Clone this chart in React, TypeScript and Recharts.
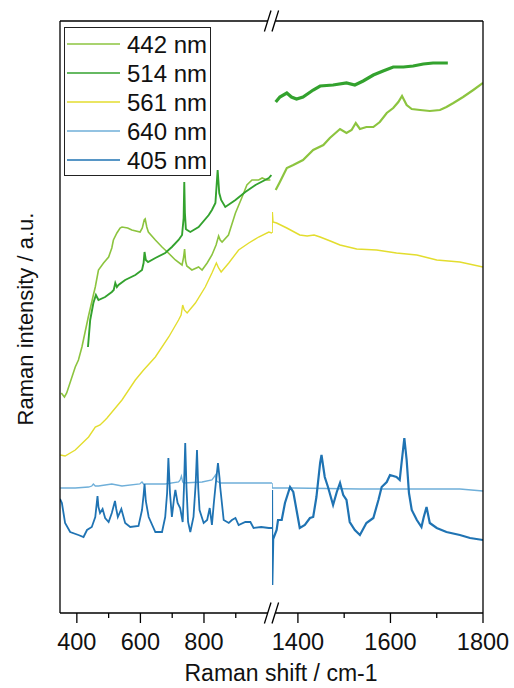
import React from 'react';
import { LineChart, Line, XAxis, YAxis, ReferenceLine, Legend } from 'recharts';

type Pt = [number, number];

// Raman shift (cm-1), intensity (a.u.) — low-wavenumber window
const nm442Left: Pt[] = [
  [351, 220], [361, 216], [368, 220], [395, 246], [405, 253], [416, 266], [436, 296], [452, 318],
  [458, 326], [468, 343], [484, 350], [500, 356], [510, 365], [515, 373], [526, 380], [536, 385],
  [542, 386], [560, 385], [573, 383], [599, 381], [606, 385], [612, 393], [615, 394], [620, 386],
  [625, 381], [647, 373], [668, 366], [688, 360], [710, 353], [731, 348], [736, 356], [739, 364],
  [742, 352], [746, 347], [762, 343], [783, 346], [794, 343], [810, 350], [825, 358], [838, 368],
  [846, 377], [851, 373], [857, 371], [877, 378], [899, 400], [920, 416], [935, 428], [951, 433],
  [972, 433], [983, 435], [998, 433], [1009, 433],
];
const nm514Left: Pt[] = [
  [435, 266], [442, 293], [452, 310], [460, 318], [468, 313], [489, 316], [510, 321], [516, 323],
  [521, 330], [526, 326], [531, 328], [552, 333], [584, 338], [605, 343], [610, 350], [613, 361],
  [617, 353], [624, 351], [647, 355], [678, 360], [699, 366], [720, 373], [731, 378], [736, 395],
  [738, 431], [740, 400], [743, 384], [747, 383], [757, 381], [783, 386], [815, 398], [825, 403],
  [836, 410], [843, 443], [848, 420], [854, 413], [867, 406], [899, 413], [930, 421], [962, 428],
  [1004, 435], [1012, 438],
];
const nm561Left: Pt[] = [
  [348, 158], [363, 157], [395, 163], [437, 176], [458, 186], [473, 188], [489, 193], [495, 195],
  [542, 213], [584, 233], [610, 243], [647, 256], [689, 276], [720, 293], [728, 298], [733, 308],
  [738, 303], [747, 300], [773, 310], [804, 326], [825, 340], [839, 350], [846, 345], [854, 341],
  [878, 350], [909, 363], [941, 370], [972, 376], [1004, 381], [1014, 380],
];
const nm640Left: Pt[] = [
  [348, 125], [395, 125], [437, 126], [447, 127], [452, 129], [458, 127], [468, 127], [510, 129],
  [542, 127], [598, 129], [605, 131], [610, 129], [615, 129], [678, 129], [720, 131], [725, 133],
  [729, 137], [733, 131], [736, 130], [794, 131], [825, 133], [832, 136], [836, 138], [840, 132],
  [851, 130], [920, 130], [1004, 130], [1014, 130],
];
const nm405Left: Pt[] = [
  [347, 114], [353, 110], [358, 100], [363, 90], [379, 81], [405, 78], [421, 76], [432, 83],
  [447, 86], [458, 96], [462, 108], [465, 117], [468, 106], [473, 100], [481, 104], [489, 95],
  [500, 91], [510, 100], [520, 112], [524, 104], [529, 96], [540, 104], [552, 90], [568, 86],
  [594, 87], [605, 103], [610, 118], [613, 129], [617, 112], [626, 96], [647, 81], [668, 81],
  [678, 96], [684, 120], [688, 155], [693, 120], [699, 96], [706, 115], [710, 123], [717, 110],
  [725, 105], [733, 91], [737, 125], [741, 170], [745, 125], [750, 91], [757, 81], [767, 96],
  [774, 130], [778, 163], [782, 125], [786, 103], [799, 90], [810, 93], [818, 105], [825, 88],
  [831, 110], [836, 126], [844, 150], [849, 135], [851, 126], [862, 93], [878, 90], [888, 93],
  [899, 95], [909, 88], [930, 91], [946, 91], [956, 85], [980, 86], [1004, 85], [1014, 85],
];

// Raman shift (cm-1), intensity (a.u.) — high-wavenumber window
const nm442Right: Pt[] = [
  [1352, 423], [1361, 431], [1376, 445], [1390, 448], [1411, 453], [1433, 463], [1455, 468],
  [1469, 475], [1491, 484], [1505, 480], [1516, 483], [1525, 490], [1534, 484], [1548, 486],
  [1563, 486], [1577, 491], [1592, 500], [1606, 505], [1617, 511], [1625, 517], [1635, 508],
  [1646, 504], [1664, 503], [1685, 502], [1707, 503], [1721, 506], [1736, 510], [1757, 516],
  [1779, 523], [1800, 530],
];
const nm514Right: Pt[] = [
  [1352, 511], [1361, 516], [1376, 520], [1386, 516], [1397, 514], [1411, 516], [1433, 523],
  [1448, 527], [1476, 528], [1505, 530], [1523, 528], [1541, 532], [1563, 538], [1584, 542],
  [1606, 546], [1628, 546], [1649, 547], [1671, 549], [1692, 550], [1724, 550],
];
const nm561Right: Pt[] = [
  [1344, 380], [1344.5, 401], [1346, 391], [1354, 390], [1376, 385], [1404, 378], [1420, 377],
  [1435, 378], [1448, 376], [1470, 372], [1491, 368], [1527, 364], [1570, 363], [1613, 360],
  [1657, 358], [1700, 353], [1750, 351], [1800, 346],
];
const nm640Right: Pt[] = [
  [1344, 130], [1344.5, 125], [1389, 125], [1534, 124], [1642, 124], [1750, 124], [1800, 122],
];
const nm405Right: Pt[] = [
  [1344, 123], [1344.5, 28], [1346.5, 74], [1354, 83], [1357, 93], [1365, 93], [1372, 110],
  [1383, 126], [1390, 121], [1397, 103], [1404, 85], [1415, 88], [1426, 95], [1433, 96],
  [1440, 116], [1448, 150], [1451, 158], [1458, 136], [1465, 126], [1476, 108], [1484, 121],
  [1491, 130], [1498, 118], [1505, 113], [1512, 91], [1523, 83], [1534, 78], [1548, 90],
  [1563, 95], [1574, 113], [1581, 126], [1592, 131], [1599, 138], [1613, 136], [1620, 133],
  [1624, 150], [1630, 175], [1635, 153], [1640, 120], [1646, 103], [1657, 93], [1667, 86],
  [1672, 96], [1678, 106], [1685, 90], [1700, 85], [1721, 81], [1750, 78], [1772, 75], [1800, 73],
];

const leftTicks = [400, 500, 600, 700, 800, 900];
const rightTicks = [1400, 1500, 1600, 1700, 1800];
const labelledTicks = [400, 600, 800, 1400, 1600, 1800];

const leftDomain: [number, number] = [347, 1014];
const rightDomain: [number, number] = [1344, 1800];
const intensityDomain: [number, number] = [0, 592];

const FONT = '"Liberation Sans", Arial, Helvetica, sans-serif';

const SERIES = [
  { name: '442 nm', color: '#8CC43F', left: nm442Left, right: nm442Right, wL: 1.6, wR: 2.2 },
  { name: '514 nm', color: '#33A22E', left: nm514Left, right: nm514Right, wL: 1.9, wR: 3.2 },
  { name: '561 nm', color: '#E3DD2E', left: nm561Left, right: nm561Right, wL: 1.4, wR: 1.6 },
  { name: '640 nm', color: '#6FAFD9', left: nm640Left, right: nm640Right, wL: 1.3, wR: 1.4 },
  { name: '405 nm', color: '#1F73B3', left: nm405Left, right: nm405Right, wL: 1.8, wR: 2.2 },
];

const toRows = (pts: Pt[]) => pts.map(([x, y]) => ({ x, y }));

const W = 514;
const H = 688;
const PLOT_TOP = 21;
const BREAK_X = 272;
const X_AXIS_H = 75;

function ShiftTick(props: any) {
  const { x, y, payload } = props;
  const major = labelledTicks.includes(payload.value);
  return (
    <g>
      <line x1={x} x2={x} y1={y} y2={y + (major ? 10 : 5)} stroke="#000" strokeWidth={1.3} />
      {major && (
        <text x={x} y={y + 37} textAnchor="middle" fontSize={23.5} fontFamily={FONT} fill="#111">
          {payload.value}
        </text>
      )}
    </g>
  );
}

function XTitle() {
  return (
    <text x={281} y={681} textAnchor="middle" fontSize={23} fontFamily={FONT} fill="#111">
      Raman shift / cm-1
    </text>
  );
}

function YTitle() {
  return (
    <text
      x={0}
      y={0}
      transform="translate(33,319) rotate(-90)"
      textAnchor="middle"
      fontSize={22}
      fontFamily={FONT}
      fill="#111"
    >
      Raman intensity / a.u.
    </text>
  );
}

function SeriesKey() {
  return (
    <div
      style={{
        boxSizing: 'border-box',
        width: 147,
        height: 149,
        border: '1px solid #222',
        paddingTop: 1.5,
        background: '#fff',
        fontFamily: FONT,
      }}
    >
      {SERIES.map((s) => (
        <div key={s.name} style={{ height: 29, display: 'flex', alignItems: 'center' }}>
          <svg width={56} height={4} style={{ marginLeft: 2, display: 'block' }}>
            <line x1={0} x2={53} y1={2} y2={2} stroke={s.color} strokeWidth={1.4} />
          </svg>
          <span style={{ fontSize: 24, color: '#111', lineHeight: '29px', marginLeft: 4 }}>{s.name}</span>
        </div>
      ))}
    </div>
  );
}

function BreakMarks() {
  const slash = (x0: number, yc: number) => (
    <line x1={x0 - 3.3} y1={yc + 10.5} x2={x0 + 3.3} y2={yc - 10.5} stroke="#000" strokeWidth={1.3} />
  );
  const cut = (yc: number) => (
    <g>
      <rect x={BREAK_X - 4} y={yc - 2} width={7.5} height={4} fill="#fff" />
      {slash(BREAK_X - 4.3, yc)}
      {slash(BREAK_X + 3.3, yc)}
    </g>
  );
  const bottom = H - X_AXIS_H;
  return (
    <svg width={W} height={H} style={{ position: 'absolute', left: 0, top: 0, pointerEvents: 'none' }}>
      {cut(PLOT_TOP)}
      {cut(bottom)}
    </svg>
  );
}

export default function App() {
  const layer: React.CSSProperties = { position: 'absolute', left: 0, top: 0 };
  return (
    <div style={{ position: 'absolute', left: 0, top: 0, width: W, height: H, background: '#fff' }}>
      <div style={layer}>
        <LineChart width={W} height={H} margin={{ top: PLOT_TOP, right: W - BREAK_X, bottom: 0, left: 0 }}>
          <XAxis
            dataKey="x"
            type="number"
            domain={leftDomain}
            allowDataOverflow
            ticks={leftTicks}
            interval={0}
            height={X_AXIS_H}
            tickSize={0}
            tickMargin={0}
            tickLine={false}
            tick={<ShiftTick />}
            axisLine={{ stroke: '#000', strokeWidth: 1.3 }}
            label={<XTitle />}
          />
          <YAxis
            type="number"
            domain={intensityDomain}
            allowDataOverflow
            width={60}
            tick={false}
            tickLine={false}
            axisLine={{ stroke: '#000', strokeWidth: 1.3 }}
            label={<YTitle />}
          />
          <ReferenceLine y={intensityDomain[1]} stroke="#000" strokeWidth={1.3} />
          {SERIES.map((s) => (
            <Line
              key={s.name}
              name={s.name}
              data={toRows(s.left)}
              dataKey="y"
              type="linear"
              stroke={s.color}
              strokeWidth={s.wL}
              dot={false}
              isAnimationActive={false}
            />
          ))}
          <Legend
            layout="vertical"
            align="center"
            verticalAlign="middle"
            wrapperStyle={{ left: 64, top: 27, width: 147, height: 149 }}
            content={() => <SeriesKey />}
          />
        </LineChart>
      </div>
      <div style={layer}>
        <LineChart width={W} height={H} margin={{ top: PLOT_TOP, right: 0, bottom: 0, left: BREAK_X }}>
          <XAxis
            dataKey="x"
            type="number"
            domain={rightDomain}
            allowDataOverflow
            ticks={rightTicks}
            interval={0}
            height={X_AXIS_H}
            tickSize={0}
            tickMargin={0}
            tickLine={false}
            tick={<ShiftTick />}
            axisLine={{ stroke: '#000', strokeWidth: 1.3 }}
          />
          <YAxis
            type="number"
            orientation="right"
            domain={intensityDomain}
            allowDataOverflow
            width={W - 483}
            tick={false}
            tickLine={false}
            axisLine={{ stroke: '#000', strokeWidth: 1.3 }}
          />
          <ReferenceLine y={intensityDomain[1]} stroke="#000" strokeWidth={1.3} />
          {SERIES.map((s) => (
            <Line
              key={s.name}
              name={s.name}
              data={toRows(s.right)}
              dataKey="y"
              type="linear"
              stroke={s.color}
              strokeWidth={s.wR}
              dot={false}
              isAnimationActive={false}
            />
          ))}
        </LineChart>
      </div>
      <BreakMarks />
    </div>
  );
}
